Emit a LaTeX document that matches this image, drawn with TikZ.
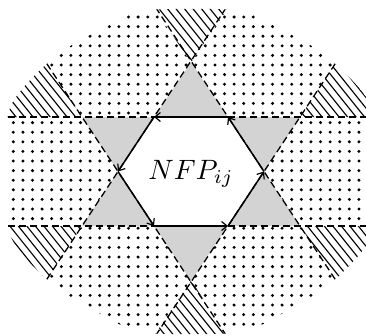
\documentclass[tikz,border=0pt]{standalone}
\usetikzlibrary{calc,arrows.meta}
\definecolor{lgray}{RGB}{211,211,211}
\begin{document}
\begin{tikzpicture}[x=1pt,y=-1pt,
  dline/.style={line width=1.3pt,dash pattern=on 7pt off 4pt},
  hexedge/.style={line width=1.5pt,-{Straight Barb[length=5.5pt,width=9pt,line width=1.2pt]}},
  hatchline/.style={line width=1.1pt},
  graytri/.style={fill=lgray},
  dotmark/.style={fill=black}]
\useasboundingbox (0,0) rectangle (366,335);
% hexagon vertices
\coordinate (C) at (191,171.5);
\coordinate (H1) at (118,171.5);
\coordinate (H2) at (154,117);
\coordinate (H3) at (228,117);
\coordinate (H4) at (264,171.5);
\coordinate (H5) at (228,226);
\coordinate (H6) at (154,226);
% star points
\coordinate (T) at (191,62.5);
\coordinate (B) at (191,280.5);
\coordinate (P1) at (82,117);
\coordinate (P2) at (300,117);
\coordinate (P3) at (82,226);
\coordinate (P4) at (300,226);
\begin{scope}
\clip plot[smooth cycle] coordinates {(191,9) (246,12) (292,35) (325,55) (359,88) (374,115) (378,171.5) (374,228) (359,255) (325,288) (292,308) (246,331) (191,334) (136,331) (90,308) (57,288) (23,255) (8,228) (4,171.5) (8,115) (23,88) (57,55) (90,35) (136,12)};
% dotted field
\foreach \i in {0,...,37} {
  \foreach \j in {0,...,32} {
    \fill[dotmark] (13.3+9.6*\i, 17+9.6*\j) circle (1.65pt);
  }
}
% gray star triangles
\fill[graytri] (H2) -- (H3) -- (T) -- cycle;
\fill[graytri] (H2) -- (H1) -- (P1) -- cycle;
\fill[graytri] (H3) -- (H4) -- (P2) -- cycle;
\fill[graytri] (H1) -- (H6) -- (P3) -- cycle;
\fill[graytri] (H4) -- (H5) -- (P4) -- cycle;
\fill[graytri] (H6) -- (H5) -- (B) -- cycle;
% hexagon interior
\fill[white] (H1) -- (H2) -- (H3) -- (H4) -- (H5) -- (H6) -- cycle;
% hatched cones
\begin{scope}
\clip (T) -- ($(H2)!5!(T)$) -- ($(H3)!5!(T)$) -- cycle
      (P1) -- ($(H2)!5!(P1)$) -- ($(H6)!5!(P1)$) -- cycle
      (P2) -- ($(H3)!5!(P2)$) -- ($(H5)!5!(P2)$) -- cycle
      (P3) -- ($(H5)!5!(P3)$) -- ($(H2)!5!(P3)$) -- cycle
      (P4) -- ($(H6)!5!(P4)$) -- ($(H3)!5!(P4)$) -- cycle
      (B) -- ($(H1)!5!(B)$) -- ($(H4)!5!(B)$) -- cycle;
\fill[white] (0,0) rectangle (366,335);
\foreach \c in {-290,-281.5,...,380} {
  \draw[hatchline] (\c,0) -- ++(280,350);
}
\end{scope}
% dashed extension lines
\draw[dline] ($(H2)!-10!(H3)$) -- ($(H2)!10!(H3)$);
\draw[dline] ($(H6)!-10!(H5)$) -- ($(H6)!10!(H5)$);
\draw[dline] ($(H1)!-4!(H2)$) -- ($(H1)!5!(H2)$);
\draw[dline] ($(H4)!-4!(H3)$) -- ($(H4)!5!(H3)$);
\draw[dline] ($(H1)!-4!(H6)$) -- ($(H1)!5!(H6)$);
\draw[dline] ($(H4)!-4!(H5)$) -- ($(H4)!5!(H5)$);
\end{scope}
% hexagon edges with arrows
\draw[hexedge] (H3) -- (H2);
\draw[hexedge] (H2) -- (H1);
\draw[hexedge] (H1) -- (H6);
\draw[hexedge] (H6) -- (H5);
\draw[hexedge] (H5) -- (H4);
\draw[hexedge] (H4) -- (H3);
\node[scale=2.8, inner sep=0pt] (lbl) at (191,174) {$NFP_{ij}$};
\end{tikzpicture}
\end{document}
